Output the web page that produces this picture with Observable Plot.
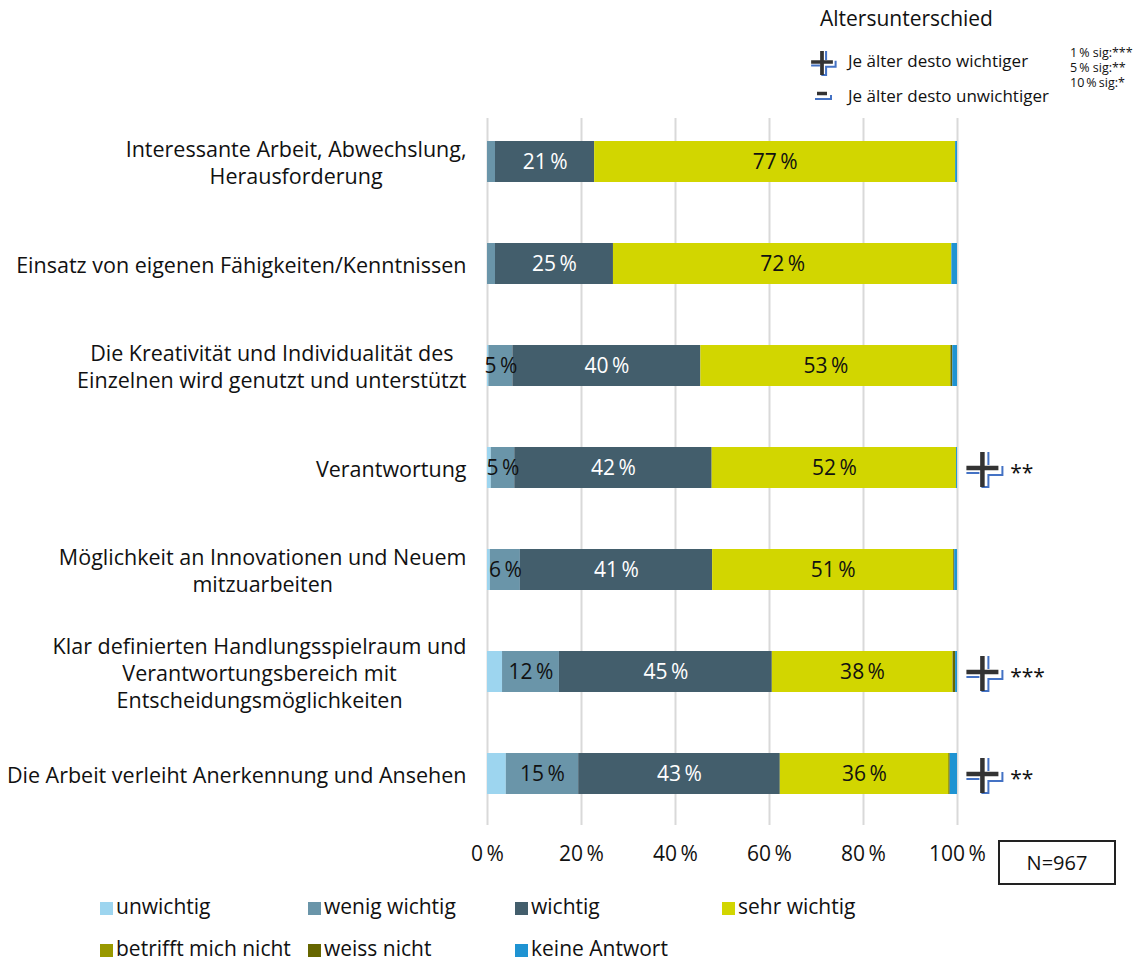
<!DOCTYPE html>
<html>
<head>
<meta charset="utf-8">
<script src="https://cdn.jsdelivr.net/npm/d3@7"></script>
<script src="https://cdn.jsdelivr.net/npm/@observablehq/plot@0.6"></script>
<style>
  html, body { margin: 0; padding: 0; background: #fff; }
  #wrap { position: relative; width: 1146px; height: 962px; font-family: "Open Sans", sans-serif; color: #111; }
  #chart { position: absolute; left: 0; top: 0; }
  .abs { position: absolute; white-space: nowrap; }
  .leg { font-size: 21px; line-height: 24px; }
  .sw { display: inline-block; width: 13px; height: 13px; margin-right: 3px; vertical-align: -1px; }
</style>
</head>
<body>
<div id="wrap">
  <div id="chart"></div>
</div>
<script>
// ---- data ----
const categories = [
  "Interessante Arbeit, Abwechslung,\nHerausforderung",
  "Einsatz von eigenen Fähigkeiten/Kenntnissen",
  "Die Kreativität und Individualität des\nEinzelnen wird genutzt und unterstützt",
  "Verantwortung",
  "Möglichkeit an Innovationen und Neuem\nmitzuarbeiten",
  "Klar definierten Handlungsspielraum und\nVerantwortungsbereich mit\nEntscheidungsmöglichkeiten",
  "Die Arbeit verleiht Anerkennung und Ansehen"
];
const series = ["unwichtig", "wenig wichtig", "wichtig", "sehr wichtig", "betrifft mich nicht", "weiss nicht", "keine Antwort"];
const colors = ["#9dd5ef", "#6a95a9", "#435e6c", "#d2d600", "#999900", "#666600", "#1f93d2"];
const unwichtig   = [0,    0,    0.3,  0.8,  0.6,  3.2,  4.0];
const wenigWichtig= [1.7,  1.7,  5.1,  5.0,  6.4,  12.1, 15.4];
const wichtig     = [21.1, 25.1, 40.0, 42.0, 40.9, 45.3, 42.9];
const sehrWichtig = [76.8, 72.0, 53.2, 52.0, 51.3, 38.4, 35.8];
const betrifft    = [0,    0,    0,    0,    0,    0.1,  0.2];
const weissNicht  = [0,    0,    0.4,  0,    0.2,  0.5,  0.15];
const keineAntwort= [0.4,  1.2,  1.0,  0.2,  0.6,  0.4,  1.55];
const xTicks = [0, 20, 40, 60, 80, 100];
// significance of age difference (row, direction, stars)
const sigRows = [
  {cat: categories[3], dir: "+", stars: "**"},
  {cat: categories[5], dir: "+", stars: "***"},
  {cat: categories[6], dir: "+", stars: "**"}
];
const sampleN = "N=967";

const valueSets = [unwichtig, wenigWichtig, wichtig, sehrWichtig, betrifft, weissNicht, keineAntwort];
const rows = categories.flatMap((c, i) => series.map((s, j) => ({cat: c, resp: s, value: valueSets[j][i]})));
const pct = d => `${d}\u2009%`;
const labelText = d => (d.value >= 4.5 && ["wenig wichtig", "wichtig", "sehr wichtig"].includes(d.resp)) ? pct(Math.round(d.value)) : null;

// custom icon symbols (drawn around the dot centre)
const plusDark = {draw(ctx) { ctx.moveTo(-16, 0); ctx.lineTo(16, 0); ctx.moveTo(0, -16); ctx.lineTo(0, 19); }};
const plusBlue = {draw(ctx) {
  ctx.moveTo(-16, 5); ctx.lineTo(-3, 5);
  ctx.moveTo(6, -16); ctx.lineTo(6, -3);
  ctx.moveTo(20, -2); ctx.lineTo(20, 7); ctx.lineTo(6, 7); ctx.lineTo(6, 19); ctx.lineTo(-1, 19);
}};

const FONT = "Open Sans, sans-serif";
const chart = Plot.plot({
  width: 1146,
  height: 880,
  marginLeft: 487,
  marginRight: 189,
  marginTop: 118,
  marginBottom: 55,
  style: {fontFamily: FONT, fontSize: "20px", color: "#111", background: "transparent"},
  x: {domain: [0, 100]},
  y: {domain: categories, paddingInner: 0.6, paddingOuter: 0.249, align: 0.42},
  color: {domain: series, range: colors},
  marks: [
    Plot.gridX(xTicks, {stroke: "#d9d9d9", strokeOpacity: 1, strokeWidth: 2}),
    Plot.barX(rows, Plot.stackX({x: "value", y: "cat", fill: "resp"})),
    Plot.text(rows, Plot.stackX({x: "value", y: "cat", z: "resp",
      text: d => d.resp === "wichtig" ? labelText(d) : null, fill: "white", fontSize: 21})),
    Plot.text(rows, Plot.stackX({x: "value", y: "cat", z: "resp",
      text: d => d.resp !== "wichtig" ? labelText(d) : null, fill: "#111", fontSize: 21})),
    Plot.dot(sigRows, {x: () => 105.3, y: "cat", symbol: plusBlue, r: 5, stroke: "#4472c4", strokeWidth: 2, fill: "none"}),
    Plot.dot(sigRows, {x: () => 105.3, y: "cat", symbol: plusDark, r: 5, stroke: "#333", strokeWidth: 4.5, fill: "none"}),
    Plot.text(sigRows, {x: () => 111.2, y: "cat", text: "stars", textAnchor: "start", dy: 5, fontSize: 21, fill: "#111"}),
    Plot.axisX(xTicks, {tickSize: 0, tickPadding: 21, fontSize: 21, tickFormat: pct, label: null, fill: "#111"}),
    Plot.axisY({tickSize: 0, tickPadding: 21, fontSize: 21.5, lineHeight: 1.26, label: null, fill: "#111"})
  ]
});
document.getElementById("chart").appendChild(chart);

// centre multi-line category labels within their right-aligned block
chart.querySelectorAll('[aria-label="y-axis tick label"] text').forEach(t => {
  const spans = t.querySelectorAll("tspan");
  if (spans.length < 2) return;
  const w = Math.max(...Array.from(spans, s => s.getComputedTextLength()));
  t.setAttribute("text-anchor", "middle");
  spans.forEach(s => s.setAttribute("x", -w / 2));
});

// ---- HTML legends / annotations ----
const wrap = document.getElementById("wrap");
function add(html, x, y, cls) {
  const d = document.createElement("div");
  d.className = "abs " + (cls || "");
  d.style.left = x + "px"; d.style.top = y + "px";
  d.innerHTML = html;
  wrap.appendChild(d);
  return d;
}
// bottom legend
const legCols = [100, 308, 515, 722];
series.forEach((s, i) => {
  const col = legCols[i % 4], row = Math.floor(i / 4);
  add(`<span class="sw" style="background:${colors[i]}"></span>${s}`, col, 894 + row * 42, "leg");
});
// N box
const nb = add(sampleN, 998, 840, "leg");
Object.assign(nb.style, {width: "114px", height: "41px", border: "2px solid #222", textAlign: "center", lineHeight: "41px", boxSizing: "content-box", fontSize: "20px"});
// top-right legend
add("Altersunterschied", 820, 6, "leg").style.fontSize = "21px";
add("Je älter desto wichtiger", 848, 49, "").style.fontSize = "17px";
add("Je älter desto unwichtiger", 848, 84, "").style.fontSize = "17px";
const sig = add("1\u2009% sig:***<br>5\u2009% sig:**<br>10\u2009%\u2009sig:*", 1070, 45, "");
Object.assign(sig.style, {fontSize: "12.5px", lineHeight: "15px"});
// small icons in the top legend
const ns = "http://www.w3.org/2000/svg";
const ic = document.createElementNS(ns, "svg");
ic.setAttribute("width", 60); ic.setAttribute("height", 110);
Object.assign(ic.style, {position: "absolute", left: "800px", top: "0px"});
ic.innerHTML = `
 <g transform="translate(22,62) scale(0.68)">
   <path d="M-16,5H-3M6,-16V-3M20,-2V7H6V19H-1" fill="none" stroke="#4472c4" stroke-width="3"/>
   <path d="M-16,0H16M0,-16V19" fill="none" stroke="#333" stroke-width="5.5"/>
 </g>
 <path d="M17,93.5H27" stroke="#333" stroke-width="3.5"/>
 <path d="M15,99H31V95" fill="none" stroke="#4472c4" stroke-width="2"/>`;
wrap.appendChild(ic);
</script>
</body>
</html>
